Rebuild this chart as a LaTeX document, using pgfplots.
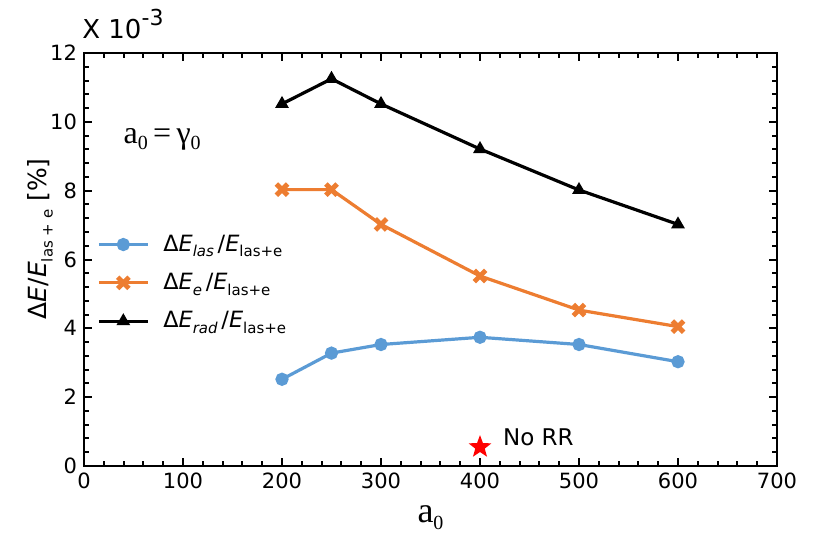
\documentclass[border=0pt]{standalone}
\usepackage{fontspec}
\setmainfont{DejaVu Sans}
\newfontfamily\serif{Liberation Serif}
\usepackage{pgfplots}
\pgfplotsset{compat=1.18}
\usetikzlibrary{calc,shapes.geometric}
\definecolor{cblue}{HTML}{5B9BD5}
\definecolor{corange}{HTML}{ED7D31}
\newcommand{\sub}[1]{\raisebox{-0.4ex}{\fontsize{10}{10}\selectfont #1}}
\newcommand{\ssub}[1]{\raisebox{-0.45ex}{\fontsize{7.5}{7.5}\selectfont #1}}
\pgfdeclareplotmark{fstar}{\node[star, star points=5, star point ratio=2.4, fill, draw=none, inner sep=0pt, minimum size=12pt]{};}
\begin{document}
\begin{tikzpicture}
\begin{axis}[
    scale only axis,
    width=346.5pt, height=206.5pt,
    xmin=0, xmax=700, ymin=0, ymax=12,
    xtick={0,100,...,700}, ytick={0,2,...,12},
    minor x tick num=4, minor y tick num=4,
    tick align=inside,
    xtick pos=both, ytick pos=both,
    major tick length=4pt, minor tick length=2.5pt,
    every tick/.style={black, line width=1pt},
    axis line style={line width=1pt},
    tick label style={font=\fontsize{10.5}{12}\selectfont},
    /pgf/number format/assume math mode=true,
    xlabel={\serif\fontsize{18}{20}\selectfont a\sub{0}},
    xlabel style={yshift=-1.5pt},
    ylabel={\fontsize{12.5}{14}\selectfont Δ\textit{E}/\textit{E}\ssub{las + e} [\%]},
    ylabel style={at={(rel axis cs:0,0.55)}, anchor=south, yshift=12pt},
    legend style={draw=none, fill=none, at={(rel axis cs:0.01,0.58)}, anchor=north west,
        font=\fontsize{11.2}{13}\selectfont, row sep=5.5pt},
    legend cell align=left,
    legend image code/.code={\draw[mark repeat=2, mark phase=2] plot coordinates {(0pt,0pt) (12.2pt,0pt) (24.4pt,0pt)};},
    clip=false,
]
\addplot[cblue, line width=1.6pt, mark=*, mark size=2.5pt]
  coordinates {(200,2.52) (250,3.28) (300,3.53) (400,3.74) (500,3.53) (600,3.03)};
\addlegendentry{\hspace*{5pt}Δ\textit{E}\ssub{\textit{las}}\,/\textit{E}\ssub{las+e}}
\addplot[corange, line width=1.6pt, mark=x, mark size=4pt, mark options={line width=2.4pt}]
  coordinates {(200,8.03) (250,8.03) (300,7.02) (400,5.52) (500,4.53) (600,4.05)};
\addlegendentry{\hspace*{5pt}Δ\textit{E}\ssub{\textit{e}}\,/\textit{E}\ssub{las+e}}
\addplot[black, line width=1.6pt, mark=triangle*, mark size=2.4pt]
  coordinates {(200,10.52) (250,11.25) (300,10.52) (400,9.21) (500,8.02) (600,7.02)};
\addlegendentry{\hspace*{5pt}Δ\textit{E}\ssub{\textit{rad}}\,/\textit{E}\ssub{las+e}}
\addplot[only marks, red, mark=fstar, forget plot]
  coordinates {(400,0.55)};
\node[anchor=west, inner sep=0pt, font=\fontsize{11.5}{13}\selectfont] at (axis cs:423,0.84) {No RR};
\node[anchor=west, font=\serif\fontsize{16}{18}\selectfont] at (rel axis cs:0.047,0.79) {a\sub{0}\,=\,γ\sub{0}};
\node[anchor=south west, inner sep=0pt] at ($(rel axis cs:0,1)+(-1pt,7pt)$) {\fontsize{13}{15}\selectfont X 10\raisebox{0.9ex}{\fontsize{11}{12}\selectfont -3}};
\end{axis}
\path[use as bounding box] ($(current axis.south west)+(-42pt,-38pt)$) rectangle ($(current axis.north east)+(26.5pt,26.5pt)$);
\end{tikzpicture}
\end{document}
